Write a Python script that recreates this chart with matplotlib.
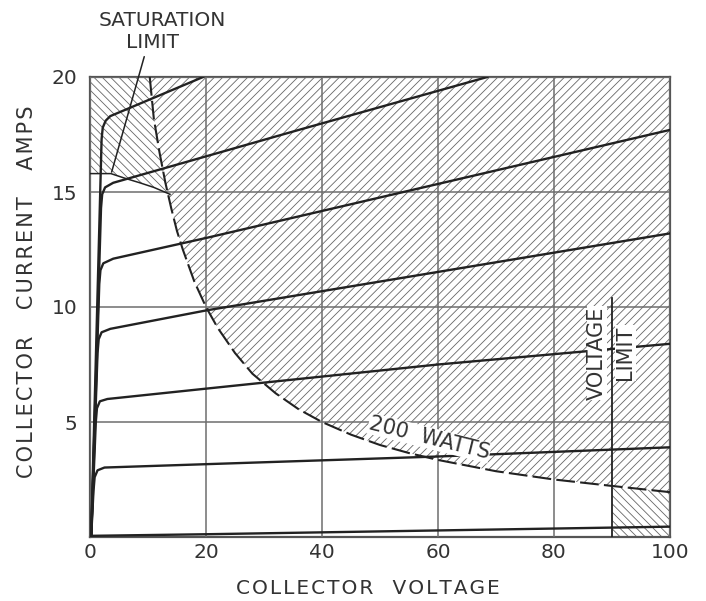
import matplotlib
matplotlib.use("Agg")
import matplotlib.pyplot as plt
from matplotlib.patches import Polygon

plt.rcParams['font.family'] = ['DejaVu Sans']
plt.rcParams['hatch.linewidth'] = 0.6

# ---------------- data ----------------
x_ticks = [0, 20, 40, 60, 80, 100]
y_ticks = [5, 10, 15, 20]

# collector characteristic curves (voltage, current)
curve_0_v = [0, 20, 100]
curve_0_i = [0.05, 0.12, 0.45]
curve_3_v = [0.2, 0.6, 0.8, 1.3, 2.5, 60, 100]
curve_3_i = [0.0, 2.0, 2.6, 2.9, 3.02, 3.5, 3.9]
curve_6_v = [0.2, 1.0, 1.2, 1.7, 3.0, 20, 60, 100]
curve_6_i = [0.0, 5.0, 5.6, 5.9, 6.0, 6.45, 7.5, 8.4]
curve_9_v = [0.2, 1.3, 1.5, 2.0, 3.5, 20, 100]
curve_9_i = [0.0, 8.0, 8.6, 8.9, 9.05, 9.85, 13.2]
curve_12_v = [0.2, 1.6, 1.8, 2.3, 4.0, 20, 100]
curve_12_i = [0.0, 11.0, 11.6, 11.9, 12.1, 13.0, 17.7]
curve_15_v = [0.2, 1.9, 2.1, 2.6, 4.0, 36, 68.5]
curve_15_i = [0.0, 14.3, 14.9, 15.2, 15.4, 17.7, 20.0]
curve_18_v = [0.2, 2.0, 2.2, 2.7, 3.5, 19.5]
curve_18_i = [0.0, 17.3, 17.8, 18.1, 18.3, 20.0]

# 200 watt dissipation limit
watt_v = [10.3, 11, 12, 13, 14, 15, 16, 18, 20, 22, 25, 28, 32, 36, 40,
          45, 50, 55, 60, 70, 80, 90, 100]
watt_i = [20.0, 18.2, 16.7, 15.4, 14.3, 13.3, 12.5, 11.1, 10.0, 9.1, 8.0,
          7.1, 6.25, 5.55, 5.0, 4.45, 4.0, 3.65, 3.35, 2.86, 2.5, 2.22, 1.95]

# saturation limit boundary
sat_v = [0, 3.6, 6, 8.6, 11, 13.8]
sat_i = [15.8, 15.8, 15.6, 15.4, 15.2, 14.9]

# voltage limit
vlim_v = 90
vlim_top = 10.4

# ---------------- figure ----------------
fig = plt.figure(figsize=(7.06, 6.01), dpi=100)
ax = fig.add_axes([90/706, 1-537/601, 580/706, 460/601])
ax.set_xlim(0, 100)
ax.set_ylim(0, 20)

hatch_col = '#666666'
ink = '#222222'

# "/" hatched region above the 200 W curve
poly_pts = list(zip(watt_v, watt_i)) + [(100, 20)]
ax.add_patch(Polygon(poly_pts, closed=True, facecolor='none', edgecolor=hatch_col,
                     linewidth=0, hatch='////', zorder=1))

# "\" hatched saturation region
sat_poly = [(0, 20)] + list(zip(sat_v, sat_i)) + \
    [(v, i) for v, i in zip(watt_v, watt_i) if v <= 14][::-1]
ax.add_patch(Polygon(sat_poly, closed=True, facecolor='none', edgecolor=hatch_col,
                     linewidth=0, hatch='\\\\\\\\', zorder=1))

# "\" hatched voltage-limit region
vl_poly = [(vlim_v, 0), (100, 0)] + \
    [(v, i) for v, i in zip(watt_v, watt_i) if v >= vlim_v][::-1]
ax.add_patch(Polygon(vl_poly, closed=True, facecolor='none', edgecolor=hatch_col,
                     linewidth=0, hatch='\\\\\\\\', zorder=1))

# grid
ax.set_xticks(x_ticks)
ax.set_yticks(y_ticks)
ax.grid(True, color='#6e6e6e', linewidth=1.1, zorder=2)
ax.set_axisbelow(False)
for s in ax.spines.values():
    s.set_color('#555555')
    s.set_linewidth(1.6)
ax.tick_params(length=0, labelsize=14.5, colors='#333333')
ax.tick_params(axis='x', pad=4)
ax.tick_params(axis='y', pad=9)

# curves
for v, i in [(curve_0_v, curve_0_i), (curve_3_v, curve_3_i), (curve_6_v, curve_6_i),
             (curve_9_v, curve_9_i), (curve_12_v, curve_12_i),
             (curve_15_v, curve_15_i), (curve_18_v, curve_18_i)]:
    ax.plot(v, i, color=ink, linewidth=1.7, solid_joinstyle='round', zorder=4,
            clip_on=True)

# 200 W dashed line
ax.plot(watt_v, watt_i, color=ink, linewidth=1.5, linestyle=(0, (9, 2.5)), zorder=4)
# saturation boundary
ax.plot(sat_v, sat_i, color=ink, linewidth=1.1, zorder=4)
# voltage limit line
ax.plot([vlim_v, vlim_v], [0, vlim_top], color=ink, linewidth=1.3, zorder=4)

txt_kw = dict(fontsize=15, color='#333333', zorder=5)
ax.text(58.5, 4.3, '200  WATTS', rotation=-14, ha='center', va='center',
        bbox=dict(facecolor='white', edgecolor='none', pad=0.5), **txt_kw)
ax.text(87.4, 8.0, 'VOLTAGE', rotation=90, ha='center', va='center',
        bbox=dict(facecolor='white', edgecolor='none', pad=0.3), **txt_kw)
ax.text(92.3, 8.0, 'LIMIT', rotation=90, ha='center', va='center',
        bbox=dict(facecolor='white', edgecolor='none', pad=0.3), **txt_kw)

# saturation label outside
fig.text(162/706, 1-20/601, 'SATURATION', ha='center', va='center', fontsize=14.5,
         color='#333333')
fig.text(152/706, 1-43/601, 'LIMIT', ha='center', va='center', fontsize=14.5,
         color='#333333')
ax.annotate('', xy=(3.6, 15.75), xycoords='data',
            xytext=(145, 601-54), textcoords='figure pixels',
            arrowprops=dict(arrowstyle='-', color=ink, lw=1.1), zorder=5,
            annotation_clip=False)

# axis titles
hs = '\u200a'
fig.text(368/706, 1-588/601, hs.join('COLLECTOR') + '   ' + hs.join('VOLTAGE'),
         ha='center', va='center', fontsize=14.5, color='#333333')
fig.text(27/706, 1-292/601, hs.join('COLLECTOR') + '    ' + hs.join('CURRENT') + '    ' + hs.join('AMPS'),
         ha='center', va='center', rotation=90, fontsize=15, color='#333333')

fig.savefig('out.png', dpi=100, facecolor='white')
